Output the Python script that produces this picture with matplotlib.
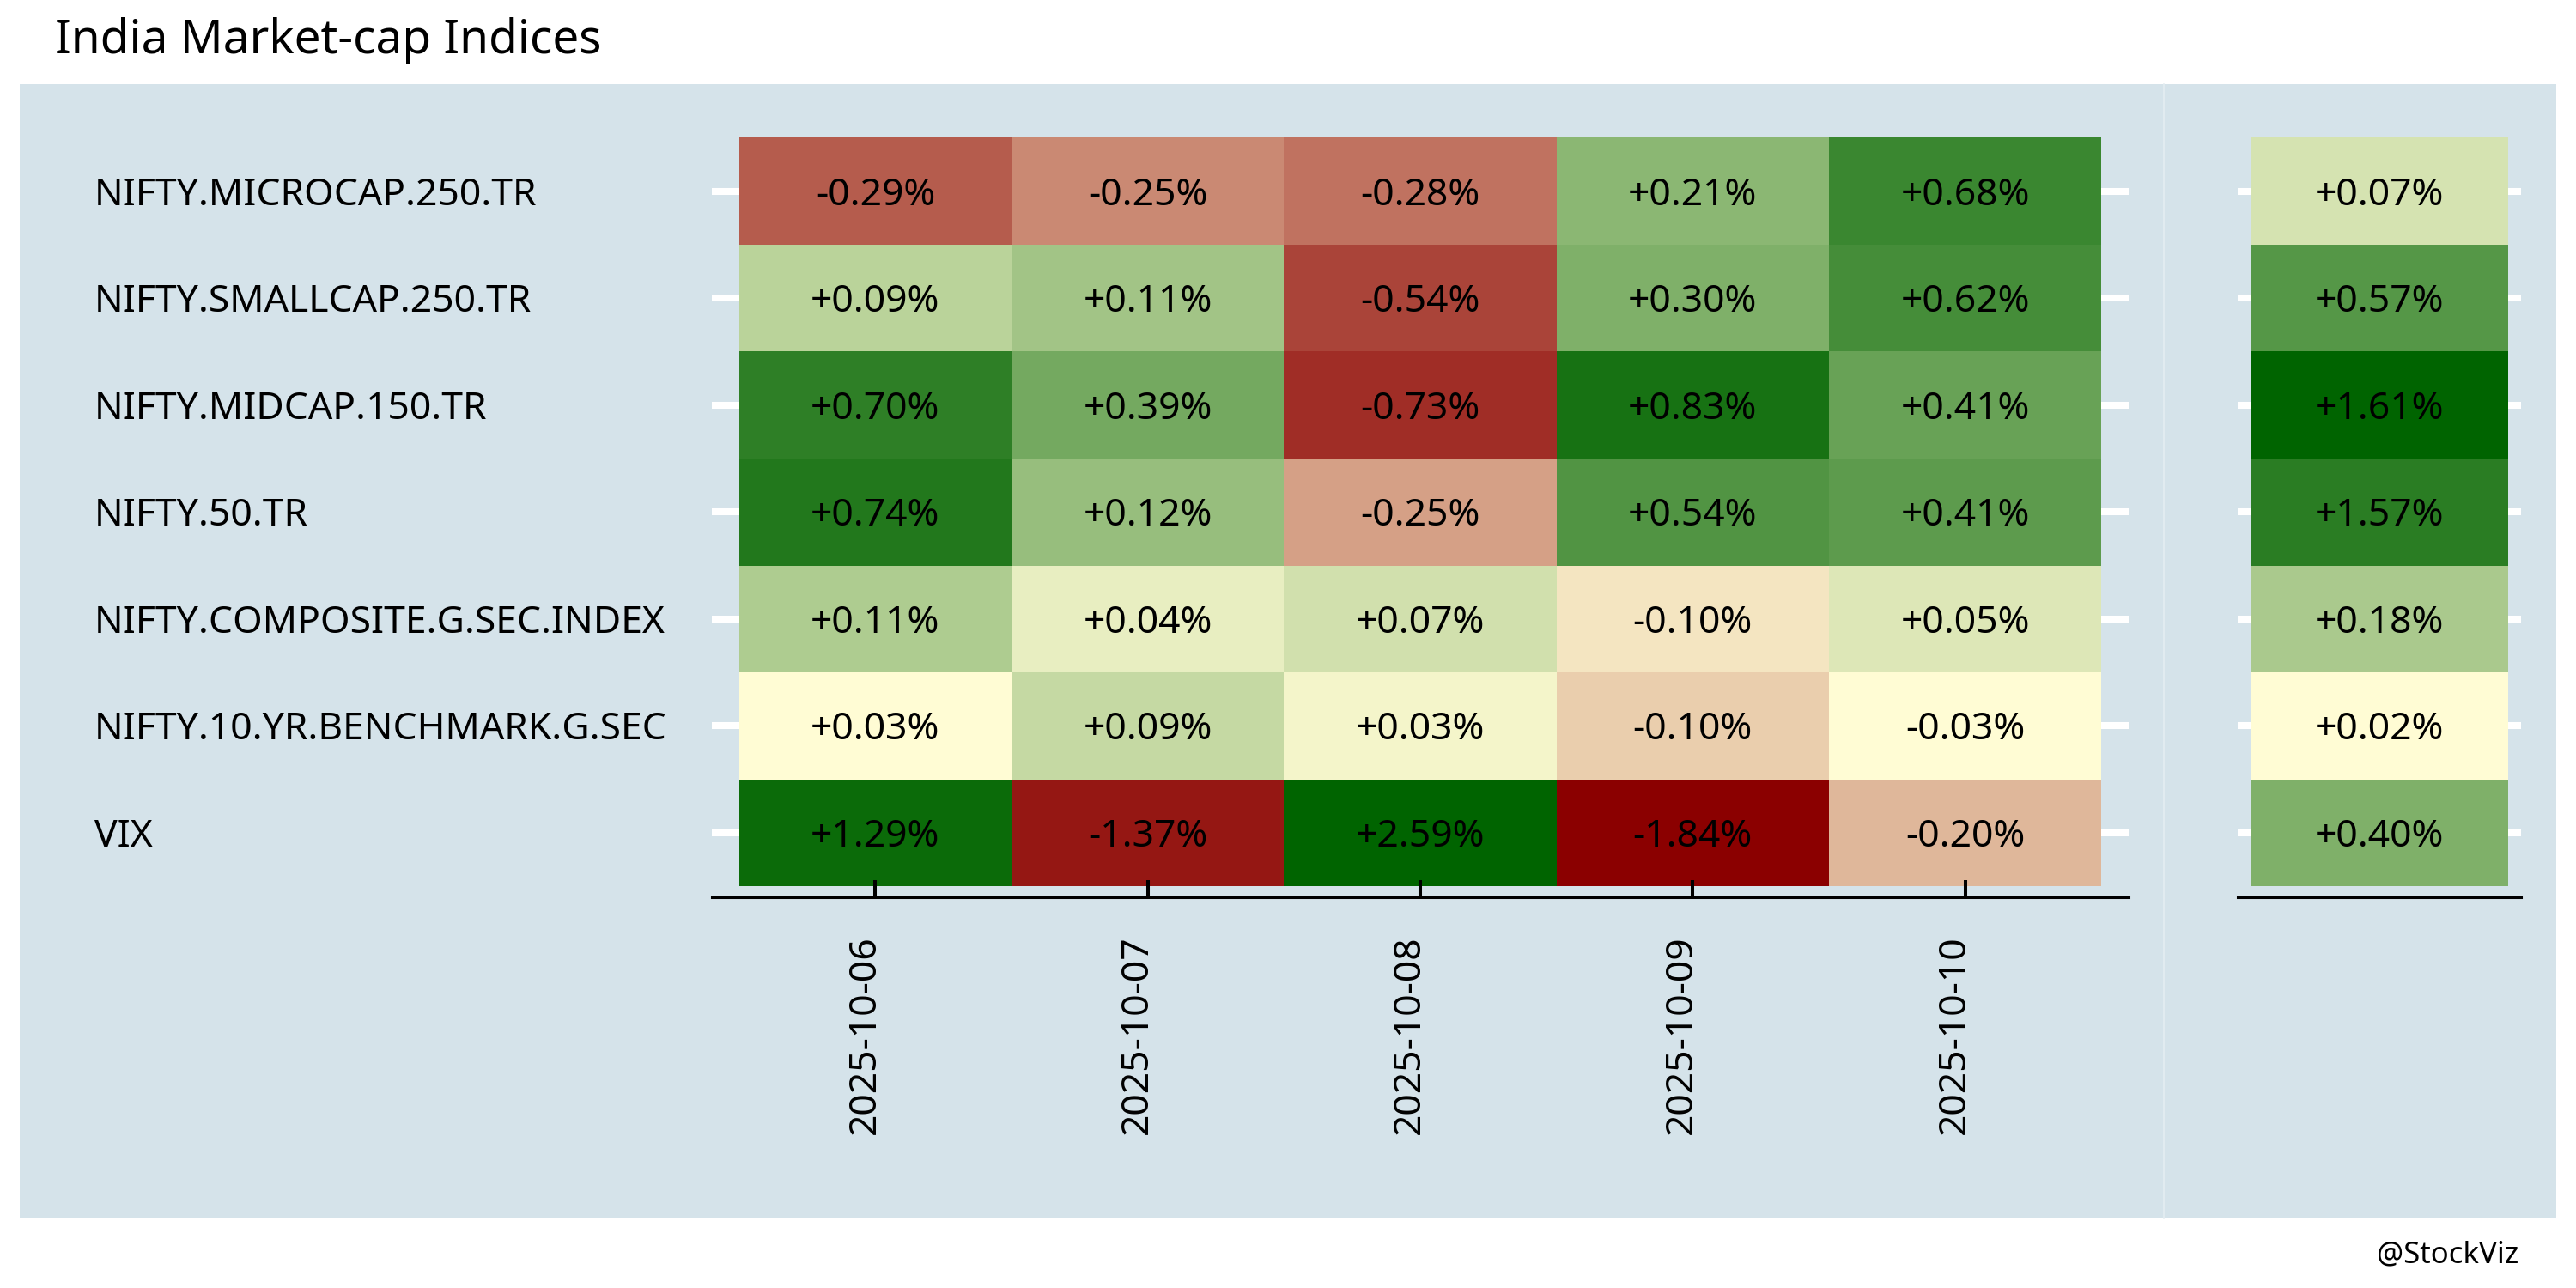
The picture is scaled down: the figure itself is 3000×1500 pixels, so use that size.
import numpy as np
import matplotlib
matplotlib.use("Agg")
import matplotlib.pyplot as plt
import matplotlib.transforms as mtransforms
from matplotlib.colors import LinearSegmentedColormap
from matplotlib.patches import Rectangle

plt.rcParams['font.family'] = ['Noto Sans', 'DejaVu Sans']

# data
indices = ["NIFTY.MICROCAP.250.TR", "NIFTY.SMALLCAP.250.TR", "NIFTY.MIDCAP.150.TR",
           "NIFTY.50.TR", "NIFTY.COMPOSITE.G.SEC.INDEX", "NIFTY.10.YR.BENCHMARK.G.SEC", "VIX"]
dates = ["2025-10-06", "2025-10-07", "2025-10-08", "2025-10-09", "2025-10-10"]

microcap = [-0.29, -0.254, -0.28, 0.21, 0.68]
smallcap = [0.094, 0.114, -0.54, 0.30, 0.62]
midcap = [0.70, 0.39, -0.73, 0.83, 0.406]
nifty50 = [0.74, 0.12, -0.246, 0.54, 0.414]
composite = [0.106, 0.04, 0.07, -0.096, 0.05]
tenyr = [0.026, 0.086, 0.034, -0.104, -0.03]
vix = [1.29, -1.37, 2.59, -1.84, -0.20]

cumulative = [0.07, 0.57, 1.61, 1.57, 0.18, 0.02, 0.40]

daily = np.array([microcap, smallcap, midcap, nifty50, composite, tenyr, vix])
total = np.array(cumulative).reshape(-1, 1)

cmap = LinearSegmentedColormap.from_list("rg", ["#8B0000", "#FFFCD4", "#006400"], N=512)


def rank_scale(v):
    # negatives ranked into the red half, positives into the green half
    flat = v.ravel()
    out = np.zeros_like(flat)
    neg = flat < 0
    pos = ~neg
    for mask, lo in ((neg, 0.0), (pos, 0.5)):
        vals = flat[mask]
        if len(vals) == 0:
            continue
        r = np.argsort(np.argsort(vals))
        if len(vals) > 1:
            out[mask] = lo + 0.5 * r / (len(vals) - 1)
        else:
            out[mask] = 0.5
    return out.reshape(v.shape)


def draw_tiles(ax, v, xlim, show_x):
    nr, nc = v.shape
    # baseline shift so the digits sit centred in the row
    down = ax.transData + mtransforms.ScaledTranslation(0, -16 / 100, ax.figure.dpi_scale_trans)
    ax.hlines(np.arange(nr), xlim[0], xlim[1], color="white", lw=5.8, zorder=0)
    ax.pcolormesh(np.arange(nc + 1) - 0.5, np.arange(nr + 1) - 0.5, rank_scale(v),
                  cmap=cmap, vmin=0, vmax=1, zorder=1)
    for i in range(nr):
        for j in range(nc):
            ax.text(j, i, f"{v[i, j]:+.2f}%", ha="center", va="baseline",
                    fontsize=32, color="black", zorder=3, transform=down)
    ax.set_xlim(*xlim)
    ax.set_ylim(nr - 0.4, -0.6)
    ax.set_facecolor("none")
    for s in ["top", "left", "right"]:
        ax.spines[s].set_visible(False)
    ax.spines["bottom"].set_linewidth(2.2)
    ax.spines["bottom"].set_color("black")
    ax.set_yticks([])
    if show_x:
        ax.set_xticks(np.arange(nc))
        ax.set_xticklabels(dates, rotation=90, fontsize=32)
        ax.tick_params(axis="x", direction="in", length=14.4, width=2.9, pad=32, color="black")
        off = mtransforms.ScaledTranslation(-12 / 100, 0, ax.figure.dpi_scale_trans)
        for lab in ax.get_xticklabels():
            lab.set_transform(lab.get_transform() + off)
    else:
        ax.set_xticks([])


fig = plt.figure(figsize=(30, 15), dpi=100)

fig.patches.append(Rectangle((23 / 3000, 81 / 1500), 2954 / 3000, 1321 / 1500,
                             transform=fig.transFigure, facecolor="#d5e3ea",
                             edgecolor="none", zorder=-2))
fig.lines.append(plt.Line2D([2520 / 3000, 2520 / 3000], [81 / 1500, 1402 / 1500],
                            transform=fig.transFigure, color="#e4edf2", lw=1.2, zorder=-1))

ax1 = fig.add_axes([829 / 3000, 455.5 / 1500, 1650 / 3000, 896.5 / 1500])
draw_tiles(ax1, daily, (-0.6, 4.6), True)

ax2 = fig.add_axes([2606 / 3000, 455.5 / 1500, 330 / 3000, 896.5 / 1500])
draw_tiles(ax2, total, (-0.55, 0.55), False)

trans = mtransforms.blended_transform_factory(fig.transFigure, ax1.transData)
trans = trans + mtransforms.ScaledTranslation(0, -16 / 100, fig.dpi_scale_trans)
for i, name in enumerate(indices):
    ax1.text(110 / 3000, i, name, transform=trans, ha="left", va="baseline",
             fontsize=32, color="black")

fig.text(64 / 3000, 1438 / 1500, "India Market-cap Indices", fontsize=39.6,
         ha="left", va="baseline", color="black")
fig.text(2933 / 3000, 30 / 1500, "@StockViz", fontsize=25,
         ha="right", va="baseline", color="black")

fig.savefig("out.png", dpi=100)
